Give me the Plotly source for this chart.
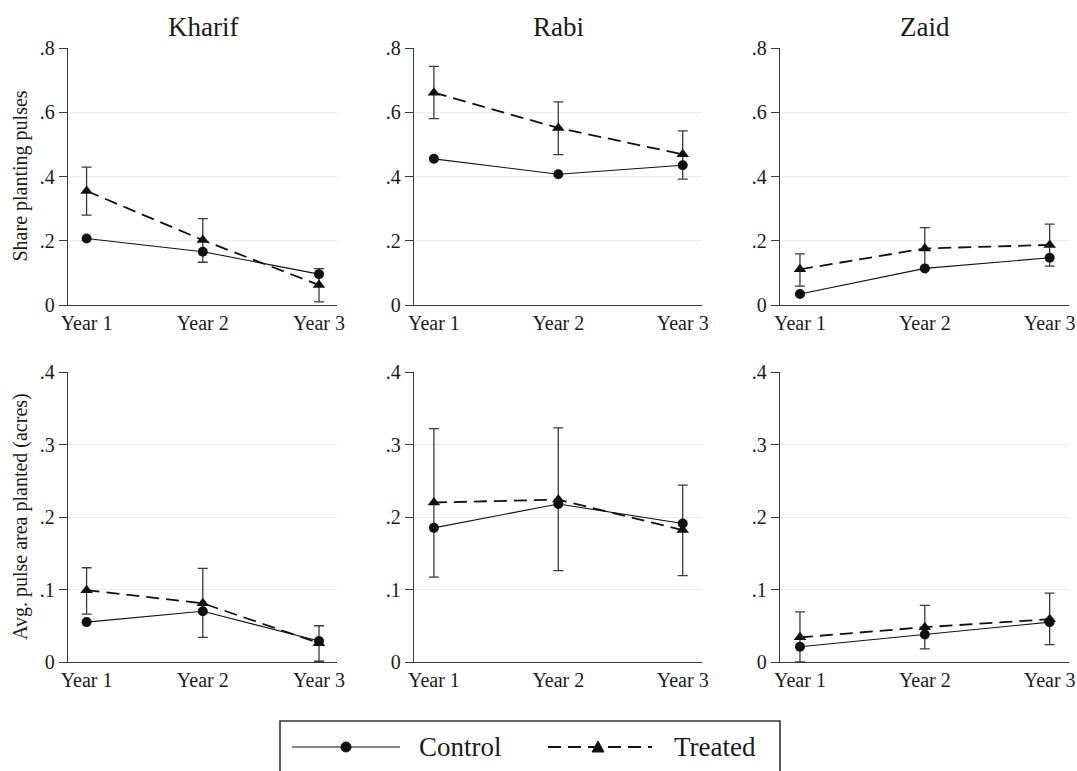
import plotly.graph_objects as go

# ---------------- data ----------------
seasons = ["Kharif", "Rabi", "Zaid"]
years = ["Year 1", "Year 2", "Year 3"]
year_pos = [1, 2, 3]

# Share planting pulses
share_control = {
    "Kharif": [0.207, 0.166, 0.096],
    "Rabi":   [0.455, 0.407, 0.435],
    "Zaid":   [0.034, 0.114, 0.147],
}
share_treated = {
    "Kharif": [0.355, 0.202, 0.062],
    "Rabi":   [0.661, 0.551, 0.469],
    "Zaid":   [0.111, 0.176, 0.187],
}
share_treated_lo = {
    "Kharif": [0.280, 0.133, 0.010],
    "Rabi":   [0.580, 0.468, 0.392],
    "Zaid":   [0.059, 0.111, 0.121],
}
share_treated_hi = {
    "Kharif": [0.429, 0.269, 0.113],
    "Rabi":   [0.743, 0.632, 0.542],
    "Zaid":   [0.159, 0.241, 0.252],
}

# Avg. pulse area planted (acres)
area_control = {
    "Kharif": [0.055, 0.070, 0.029],
    "Rabi":   [0.185, 0.218, 0.191],
    "Zaid":   [0.021, 0.038, 0.055],
}
area_treated = {
    "Kharif": [0.099, 0.081, 0.026],
    "Rabi":   [0.220, 0.224, 0.182],
    "Zaid":   [0.034, 0.048, 0.059],
}
area_treated_lo = {
    "Kharif": [0.066, 0.034, 0.001],
    "Rabi":   [0.117, 0.126, 0.119],
    "Zaid":   [0.000, 0.018, 0.024],
}
area_treated_hi = {
    "Kharif": [0.130, 0.129, 0.050],
    "Rabi":   [0.322, 0.323, 0.244],
    "Zaid":   [0.069, 0.078, 0.095],
}

share_ticks = [0, 0.2, 0.4, 0.6, 0.8]
share_ticktext = ["0", ".2", ".4", ".6", ".8"]
area_ticks = [0, 0.1, 0.2, 0.3, 0.4]
area_ticktext = ["0", ".1", ".2", ".3", ".4"]

row_titles = ["Share planting pulses", "Avg. pulse area planted (acres)"]

# ---------------- styling / layout ----------------
W, H = 1077, 771
FONT = "Liberation Serif, DejaVu Serif, serif"
TXT = "#1a1a1a"
AXC = "#3a3a3a"
GRID = "#ececec"


def px(x):
    return x / W


def py(y):
    return 1 - y / H


col_px = [(68, 337), (414, 702), (780, 1069)]
row_px = [(48, 305), (372, 662)]

fig = go.Figure()

rows = [
    (share_control, share_treated, share_treated_lo, share_treated_hi, [0, 0.8], share_ticks, share_ticktext),
    (area_control, area_treated, area_treated_lo, area_treated_hi, [0, 0.4], area_ticks, area_ticktext),
]

k = 0
for r, (ctl, trt, lo, hi, yr, ytv, ytt) in enumerate(rows):
    for c, s in enumerate(seasons):
        k += 1
        xa = "x" if k == 1 else f"x{k}"
        ya = "y" if k == 1 else f"y{k}"
        plus = [h - v for h, v in zip(hi[s], trt[s])]
        minus = [v - l for v, l in zip(trt[s], lo[s])]
        fig.add_trace(go.Scatter(
            x=year_pos, y=trt[s], xaxis=xa, yaxis=ya, mode="lines+markers",
            name="Treated", showlegend=False, cliponaxis=False,
            line=dict(color="#111111", width=1.8, dash="13px,7px"),
            marker=dict(symbol="triangle-up", size=11, color="#111111"),
            error_y=dict(type="data", symmetric=False, array=plus, arrayminus=minus,
                         color=AXC, thickness=1.3, width=5),
        ))
        fig.add_trace(go.Scatter(
            x=year_pos, y=ctl[s], xaxis=xa, yaxis=ya, mode="lines+markers",
            name="Control", showlegend=False, cliponaxis=False,
            line=dict(color="#111111", width=1.1),
            marker=dict(symbol="circle", size=10, color="#111111"),
        ))
        x0, x1 = col_px[c]
        y0, y1 = row_px[r]
        xkey = "xaxis" if k == 1 else f"xaxis{k}"
        ykey = "yaxis" if k == 1 else f"yaxis{k}"
        fig.layout[xkey] = dict(
            domain=[px(x0), px(x1)], anchor=ya, range=[0.84, 3.155],
            tickvals=year_pos, ticktext=years, showgrid=False, zeroline=False,
            showline=True, linecolor=AXC, linewidth=1.3, ticks="", automargin=False,
            tickfont=dict(family=FONT, size=20, color=TXT), fixedrange=True,
        )
        fig.layout[ykey] = dict(
            domain=[py(y1), py(y0)], anchor=xa, range=yr,
            tickvals=ytv, ticktext=ytt, showgrid=True, gridcolor=GRID, gridwidth=1,
            zeroline=False, showline=True, linecolor=AXC, linewidth=1.3, automargin=False,
            ticks="outside", ticklen=8, tickcolor=AXC, tickwidth=1.3,
            tickfont=dict(family=FONT, size=20, color=TXT), fixedrange=True,
        )

annotations = []
for c, s in enumerate(seasons):
    x0, x1 = col_px[c]
    annotations.append(dict(
        text=s, x=px((x0 + x1) / 2), y=py(27), xref="paper", yref="paper",
        showarrow=False, xanchor="center", yanchor="middle",
        font=dict(family=FONT, size=27, color=TXT),
    ))
for r, t in enumerate(row_titles):
    y0, y1 = row_px[r]
    annotations.append(dict(
        text=t, x=px(20), y=py((y0 + y1) / 2), xref="paper", yref="paper",
        showarrow=False, xanchor="center", yanchor="middle", textangle=-90,
        font=dict(family=FONT, size=20, color=TXT),
    ))

# legend (drawn as a boxed key)
LY = 747
annotations.append(dict(text="Control", x=px(417), y=py(LY), xref="paper", yref="paper",
                        showarrow=False, xanchor="left", yanchor="middle",
                        font=dict(family=FONT, size=27, color=TXT)))
annotations.append(dict(text="Treated", x=px(672), y=py(LY), xref="paper", yref="paper",
                        showarrow=False, xanchor="left", yanchor="middle",
                        font=dict(family=FONT, size=27, color=TXT)))

shapes = [
    dict(type="rect", xref="paper", yref="paper", x0=px(280), x1=px(780), y0=py(800), y1=py(721),
         line=dict(color="#333333", width=1.6), fillcolor="rgba(0,0,0,0)"),
    dict(type="line", xref="paper", yref="paper", x0=px(292), x1=px(400), y0=py(LY), y1=py(LY),
         line=dict(color="#111111", width=1.2)),
    dict(type="circle", xref="paper", yref="paper", x0=px(341), x1=px(351), y0=py(LY + 5), y1=py(LY - 5),
         line=dict(color="#111111", width=1), fillcolor="#111111"),
    dict(type="line", xref="paper", yref="paper", x0=px(548), x1=px(652), y0=py(LY), y1=py(LY),
         line=dict(color="#111111", width=2, dash="13px,7px")),
    dict(type="path", xref="paper", yref="paper",
         path=f"M {px(592)},{py(LY + 5)} L {px(604)},{py(LY + 5)} L {px(598)},{py(LY - 6)} Z",
         line=dict(color="#111111", width=1), fillcolor="#111111"),
]

fig.update_layout(
    width=W, height=H, margin=dict(l=0, r=0, t=0, b=0, pad=0, autoexpand=False),
    paper_bgcolor="white", plot_bgcolor="white", showlegend=False,
    annotations=annotations, shapes=shapes,
    font=dict(family=FONT, color=TXT),
)

fig.write_html(
    "out.html",
    config={"displayModeBar": False},
    post_script="document.body.style.margin='0';document.body.style.overflow='hidden';",
)
